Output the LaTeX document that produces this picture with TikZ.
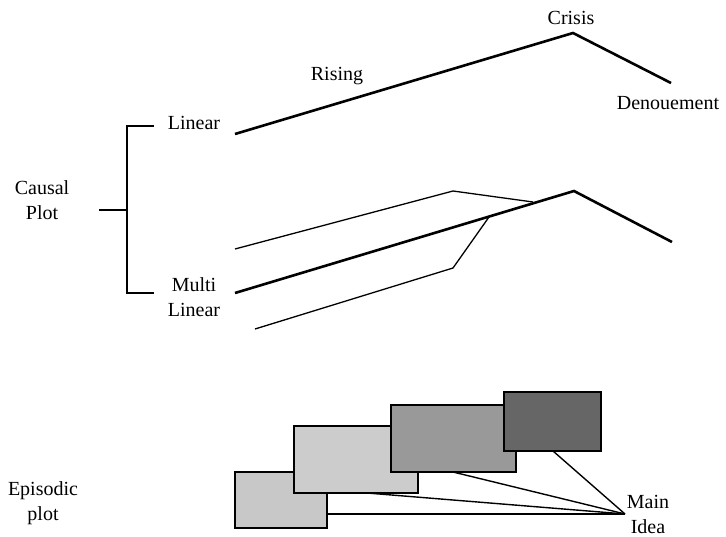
\documentclass[tikz,border=0pt]{standalone}
\usepackage{fontspec}
\setmainfont{Liberation Serif}
\begin{document}
\begin{tikzpicture}[x=1pt,y=-1pt,
  lbl/.style={font=\fontsize{20}{25}\selectfont, inner sep=0pt, align=center},
  thickln/.style={line width=2.6pt, line join=miter},
  thinln/.style={line width=1.3pt},
  brk/.style={line width=1.5pt},
  episode/.style={draw, line width=1.5pt, inner sep=0pt, outer sep=0pt},
  link/.style={line width=1.4pt}]
\useasboundingbox (0,0) rectangle (726,536);
% labels
\node[lbl] (crisis) at (571,18) {Crisis};
\node[lbl] (rising) at (337,76) {Rising};
\node[lbl] (denoue) at (668,103) {Denouement};
\node[lbl] (linear) at (194,123) {Linear};
\node[lbl] (causal) at (42,200) {Causal\\Plot};
\node[lbl] (multi) at (194,297) {Multi\\Linear};
\node[lbl] (episodic) at (43,503) {Episodic\\plot};
\node[lbl] (main) at (648,514) {Main\\Idea};
% bracket
\coordinate (bt) at (127,126);
\coordinate (bb) at (127,293);
\coordinate (bm) at (127,210);
\draw[brk] (154,126) -- (bt) -- (bb) -- (154,293);
\draw[brk] (99,210) -- (bm);
% linear plot
\coordinate (l0) at (235,134);
\coordinate (l1) at (573,33);
\coordinate (l2) at (671,83);
\draw[thickln] (l0) -- (l1) -- (l2);
% multi linear plot
\coordinate (m0) at (235,293);
\coordinate (m1) at (574,191);
\coordinate (m2) at (672,242);
\draw[thickln] (m0) -- (m1) -- (m2);
\coordinate (a0) at (235,249);
\coordinate (a1) at (453,191);
\coordinate (a2) at (533,202);
\draw[thinln] (a0) -- (a1) -- (a2);
\coordinate (b0) at (255,329);
\coordinate (b1) at (453,268);
\coordinate (b2) at (489,217);
\draw[thinln] (b0) -- (b1) -- (b2);
% episodic plot
\node[episode, fill={rgb,255:red,200;green,200;blue,200}, minimum width=92pt, minimum height=56pt] (e1) at (281,500) {};
\node[episode, fill={rgb,255:red,204;green,204;blue,204}, minimum width=124pt, minimum height=67pt] (e2) at (356,459.5) {};
\node[episode, fill={rgb,255:red,153;green,153;blue,153}, minimum width=125pt, minimum height=67pt] (e3) at (453.5,438.5) {};
\node[episode, fill={rgb,255:red,102;green,102;blue,102}, minimum width=97pt, minimum height=59pt] (e4) at (552.5,421.5) {};
\coordinate (mi) at (625,514);
\draw[link] (e1.east |- mi) -- (mi);
\draw[link] (e2.south -| 367,0) -- (mi);
\draw[link] (e3.south -| 453,0) -- (mi);
\draw[link] (e4.south -| 553,0) -- (mi);
\end{tikzpicture}
\end{document}
